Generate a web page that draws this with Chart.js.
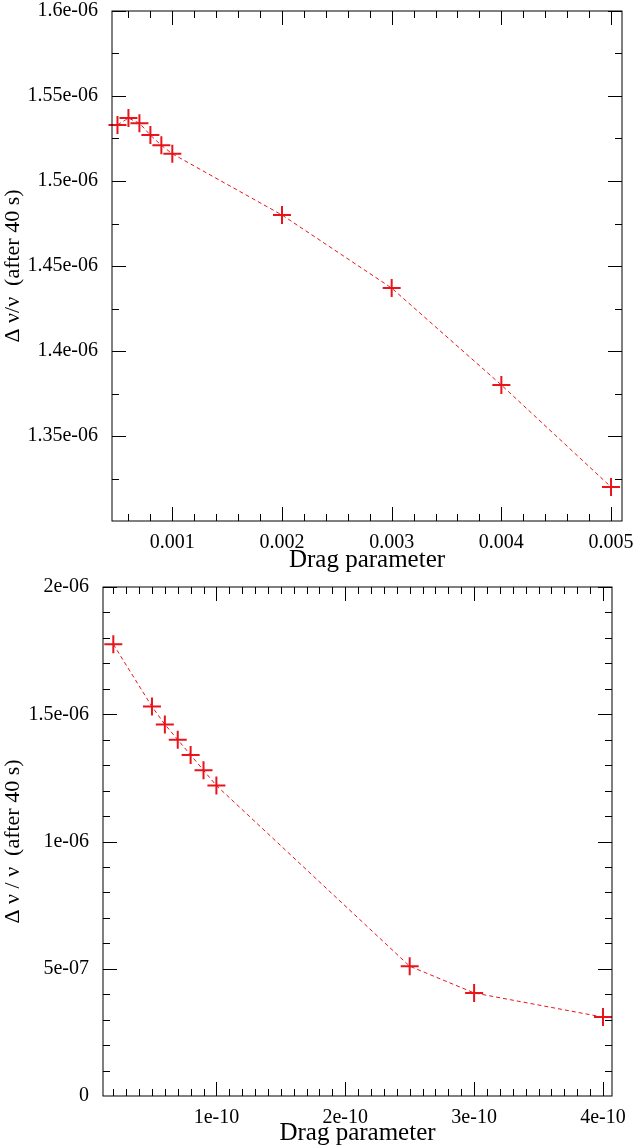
<!DOCTYPE html>
<html lang="en">
<head>
  <meta charset="UTF-8">
  <title>Drag parameter</title>
  <style>
    body { margin: 0; background: #fff; width: 636px; height: 1148px; position: relative; overflow: hidden; }
    canvas { position: absolute; left: 0; }
    #top { top: 0; }
    #bottom { top: 575px; }
  </style>
  <script src="https://cdn.jsdelivr.net/npm/chart.js"></script>
</head>
<body>
<canvas id="top" width="636" height="575"></canvas>
<canvas id="bottom" width="636" height="573"></canvas>
<script>
  // top panel
  const dragTop = [0.0005, 0.0006, 0.0007, 0.0008, 0.0009, 0.001, 0.002, 0.003, 0.004, 0.005];
  const shiftTop = [1.533e-6, 1.537e-6, 1.534e-6, 1.527e-6, 1.521e-6, 1.516e-6, 1.480e-6, 1.437e-6, 1.380e-6, 1.320e-6];
  const xTicksTop = [0.001, 0.002, 0.003, 0.004, 0.005];
  const yTicksTop = [1.35e-6, 1.4e-6, 1.45e-6, 1.5e-6, 1.55e-6, 1.6e-6];
  const yLabelsTop = ['1.35e-06', '1.4e-06', '1.45e-06', '1.5e-06', '1.55e-06', '1.6e-06'];

  // bottom panel
  const dragBottom = [2e-11, 5e-11, 6e-11, 7e-11, 8e-11, 9e-11, 1e-10, 2.5e-10, 3e-10, 4e-10];
  const shiftBottom = [1.775e-6, 1.53e-6, 1.46e-6, 1.40e-6, 1.34e-6, 1.28e-6, 1.22e-6, 5.1e-7, 4.05e-7, 3.1e-7];
  const xTicksBottom = [1e-10, 2e-10, 3e-10, 4e-10];
  const xLabelsBottom = ['1e-10', '2e-10', '3e-10', '4e-10'];
  const yTicksBottom = [0, 5e-7, 1e-6, 1.5e-6, 2e-6];
  const yLabelsBottom = ['0', '5e-07', '1e-06', '1.5e-06', '2e-06'];

  const FONT = "'Liberation Serif', 'DejaVu Serif', serif";
  const RED = '#e8141c';

  // inward ticks on all four sides, xmgrace style
  const frameTicks = {
    id: 'frameTicks',
    afterDraw(chart, args, opts) {
      const {ctx, chartArea: a, scales: {x, y}} = chart;
      ctx.save();
      ctx.strokeStyle = '#000';
      ctx.lineWidth = 1;
      ctx.strokeRect(a.left, a.top, a.right - a.left, a.bottom - a.top);
      const mark = (vals, len, isX) => vals.forEach(v => {
        ctx.beginPath();
        if (isX) {
          const p = Math.round(x.getPixelForValue(v)) + 0.5;
          if (p < a.left || p > a.right + 1) return;
          ctx.moveTo(p, a.bottom); ctx.lineTo(p, a.bottom - len);
          ctx.moveTo(p, a.top); ctx.lineTo(p, a.top + len);
        } else {
          const p = Math.round(y.getPixelForValue(v)) + 0.5;
          if (p < a.top - 1 || p > a.bottom) return;
          ctx.moveTo(a.left, p); ctx.lineTo(a.left + len, p);
          ctx.moveTo(a.right, p); ctx.lineTo(a.right - len, p);
        }
        ctx.stroke();
      });
      mark(opts.xMajor, 14, true);
      mark(opts.xMinor, 7, true);
      mark(opts.yMajor, 14, false);
      mark(opts.yMinor, 7, false);
      ctx.restore();
    }
  };

  function minors(lo, hi, step) {
    const out = [];
    for (let k = Math.ceil(lo / step - 1e-9); k * step <= hi + step * 1e-6; k++) out.push(k * step);
    return out;
  }

  function makeChart(id, xs, ys, cfg) {
    new Chart(document.getElementById(id), {
      type: 'scatter',
      data: {
        datasets: [{
          data: xs.map((v, i) => ({x: v, y: ys[i]})),
          showLine: true,
          clip: false,
          borderColor: RED,
          borderWidth: 1,
          borderDash: [4, 3],
          pointStyle: 'cross',
          pointRadius: 9,
          pointBorderWidth: 2,
          pointBorderColor: RED,
          pointBackgroundColor: RED
        }]
      },
      options: {
        responsive: false,
        animation: false,
        layout: {padding: {top: cfg.padTop, right: cfg.padRight, left: 0, bottom: 0}},
        plugins: {
          legend: {display: false},
          tooltip: {enabled: false},
          frameTicks: {xMajor: cfg.xTicks, xMinor: cfg.xMinor, yMajor: cfg.yTicks, yMinor: cfg.yMinor}
        },
        scales: {
          x: {
            type: 'linear', min: cfg.xMin, max: cfg.xMax,
            grid: {display: false},
            border: {display: false},
            afterBuildTicks: s => { s.ticks = cfg.xTicks.map(v => ({value: v})); },
            afterFit: s => { s.height = cfg.xHeight; s.paddingLeft = 0; s.paddingRight = 0; },
            ticks: {
              color: '#000', padding: 2, maxRotation: 0, autoSkip: false,
              font: {family: FONT, size: 20},
              callback: (v, i) => cfg.xLabels ? cfg.xLabels[i] : String(v)
            },
            title: {display: true, text: 'Drag parameter', color: '#000', padding: {top: cfg.titleGap, bottom: 0},
              font: {family: FONT, size: 25}}
          },
          y: {
            type: 'linear', min: cfg.yMin, max: cfg.yMax,
            grid: {display: false},
            border: {display: false},
            afterBuildTicks: s => { s.ticks = cfg.yTicks.map(v => ({value: v})); },
            afterFit: s => { s.width = cfg.yWidth; s.paddingTop = 0; s.paddingBottom = 0; },
            ticks: {
              color: '#000', padding: 6, autoSkip: false,
              font: {family: FONT, size: 20},
              callback: (v, i) => cfg.yLabels[i]
            },
            title: {display: true, text: cfg.yTitle, color: '#000', padding: 0,
              font: {family: FONT, size: 22}}
          }
        }
      },
      plugins: [frameTicks]
    });
  }

  makeChart('top', dragTop, shiftTop, {
    xMin: 0.00045, xMax: 0.0051, yMin: 1.3e-6, yMax: 1.6e-6,
    xTicks: xTicksTop, xMinor: minors(0.00045, 0.0051, 0.0002),
    yTicks: yTicksTop, yMinor: minors(1.3e-6, 1.6e-6, 2.5e-8),
    yLabels: yLabelsTop, xHeight: 54, yWidth: 112, padTop: 9, padRight: 14, titleGap: -4,
    yTitle: 'Δ ν/ν  (after 40 s)'
  });

  makeChart('bottom', dragBottom, shiftBottom, {
    xMin: 1.2e-11, xMax: 4.07e-10, yMin: 0, yMax: 2e-6,
    xTicks: xTicksBottom, xLabels: xLabelsBottom, xMinor: minors(1.2e-11, 4.07e-10, 1e-11),
    yTicks: yTicksBottom, yMinor: minors(0, 2e-6, 1e-7),
    yLabels: yLabelsBottom, xHeight: 52, yWidth: 103, padTop: 12, padRight: 24, titleGap: -4,
    yTitle: 'Δ ν / ν  (after 40 s)'
  });
</script>
</body>
</html>
